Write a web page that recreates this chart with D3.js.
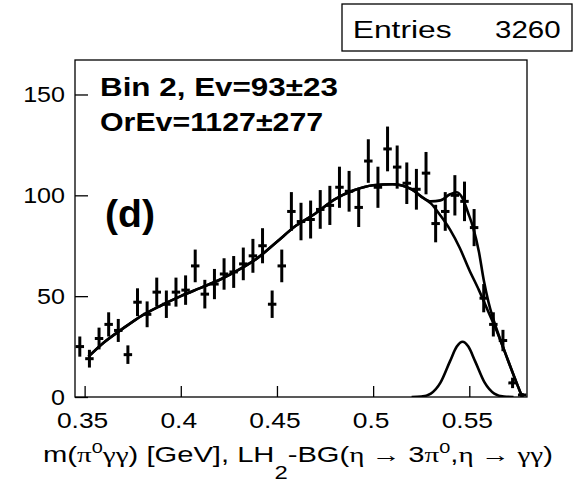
<!DOCTYPE html>
<html>
<head>
<meta charset="utf-8">
<script src="https://cdn.jsdelivr.net/npm/d3@7"></script>
<style>
  body { margin: 0; background: #fff; }
  svg { display: block; }
</style>
</head>
<body>
<svg id="chart" width="575" height="482"></svg>
<script>
// Histogram bins (GeV) — 5 MeV wide
const binCenters = [
  0.3475,0.3525,0.3575,0.3625,0.3675,0.3725,0.3775,0.3825,0.3875,0.3925,
  0.3975,0.4025,0.4075,0.4125,0.4175,0.4225,0.4275,0.4325,0.4375,0.4425,
  0.4475,0.4525,0.4575,0.4625,0.4675,0.4725,0.4775,0.4825,0.4875,0.4925,
  0.4975,0.5025,0.5075,0.5125,0.5175,0.5225,0.5275,0.5325,0.5375,0.5425,
  0.5475,0.5525,0.5575,0.5625,0.5675,0.5725,0.5775
];
const binHalfWidth = 0.0022;
const counts = [
  25,19,29,36,33,21,47,41,52,46,
  52,53,65,51,56,61,62,66,70,75,
  46,65,92,87,88,93,95,104,102,94,
  117,104,123,114,106,103,111,86,92,100,
  97,84,49,36,28,7,1
];
const errors = [
  5,4.4,5.4,6,5.7,4.6,6.9,6.4,7.2,6.8,
  7.2,7.3,8.1,7.1,7.5,7.8,7.9,8.1,8.4,8.7,
  6.8,8.1,9.6,9.3,9.4,9.6,9.7,10.2,10.1,9.7,
  10.8,10.2,11.1,10.7,10.3,10.1,10.5,9.3,9.6,10,
  9.8,9.2,7,6,5.3,2.6,1
];

// Background fit curve
const bgX = [0.352,0.36,0.37,0.38,0.39,0.40,0.41,0.42,0.43,0.44,0.45,0.46,0.47,0.48,0.49,
             0.50,0.51,0.52,0.525,0.53,0.535,0.54,0.545,0.55,0.555,0.56,0.565,0.57,0.575,0.5775];
const bgY = [20,27,34,40.5,45.5,50,54,58,63,69,77,85,91,98,102.5,
             105,105.5,103,99.3,96,90,83,74,63,53,42,31,18.5,6,0];

// Signal (eta peak) curve
const sigX = [0.520,0.525,0.530,0.535,0.540,0.5435,0.5465,0.5495,0.553,0.558,0.563,0.568,0.573];
const sigY = [0,0.2,1.7,7.1,17.8,25.0,27.4,25.0,17.8,7.1,1.7,0.2,0];

// Total fit where it departs from the background
const totX = [0.52,0.525,0.53,0.535,0.54,0.5435,0.5465,0.5495,0.552,0.555,0.5575,0.56,0.565,0.57,0.575,0.5775];
const totY = [103,99.5,97,97.5,100.5,101.5,98.5,91,84,72,58,47,31.5,18.5,6,0];

// Axis ticks
const xTicks = [0.35,0.40,0.45,0.50,0.55];
const xTickLabels = ["0.35","0.4","0.45","0.5","0.55"];
const yTicks = [0,50,100,150];
const yTickLabels = ["0","50","100","150"];

const entriesLabel = "Entries";
const entriesValue = "3260";
const infoLine1 = "Bin 2, Ev=93\u00b123";
const infoLine2 = "OrEv=1127\u00b1277";
const panelTag = "(d)";

const SANS = "'Liberation Sans', Arial, Helvetica, sans-serif";
const SERIF = "'Liberation Serif', 'Times New Roman', serif";

const svg = d3.select("#chart");
const W = 575, H = 482;
const plot = { left: 75, top: 60, right: 527, bottom: 397 };

const x = d3.scaleLinear().domain([0.345, 0.58]).range([plot.left, plot.right]);
const y = d3.scaleLinear().domain([0, 167.1]).range([plot.bottom, plot.top]);

svg.append("rect").attr("width", W).attr("height", H).attr("fill", "#fff");

svg.append("defs").append("clipPath").attr("id", "plotClip")
  .append("rect")
  .attr("x", plot.left).attr("y", plot.top)
  .attr("width", plot.right - plot.left).attr("height", plot.bottom - plot.top);

// Stretch a text horizontally so it spans [x0, x1]
function fitText(sel, x0, x1, baseline) {
  sel.attr("x", 0).attr("y", 0).attr("text-anchor", "start");
  const w = sel.node().getBBox().width;
  const sx = (x1 - x0) / w;
  sel.attr("transform", `translate(${x0},${baseline}) scale(${sx},1)`);
}

// Axes
const xAxis = svg.append("g")
  .attr("transform", `translate(0,${plot.bottom})`)
  .call(d3.axisBottom(x).tickValues(xTicks)
        .tickFormat((d, i) => xTickLabels[i])
        .tickSizeInner(-11).tickSizeOuter(0).tickPadding(15));
const yAxis = svg.append("g")
  .attr("transform", `translate(${plot.left},0)`)
  .call(d3.axisLeft(y).tickValues(yTicks)
        .tickFormat((d, i) => yTickLabels[i])
        .tickSizeInner(-13).tickSizeOuter(0).tickPadding(10));

[xAxis, yAxis].forEach(g => {
  g.select(".domain").remove();
  g.selectAll(".tick line").attr("stroke", "#000").attr("stroke-width", 1.3);
  g.selectAll(".tick text")
    .attr("fill", "#000")
    .style("font-family", SANS)
    .style("font-size", "22px");
});
xAxis.selectAll(".tick text").attr("transform", "translate(-2.5,0) scale(1.2,1)");
yAxis.selectAll(".tick text").each(function () {
  const t = d3.select(this);
  const ax = +t.attr("x");
  t.attr("transform", `translate(${ax},0) scale(1.14,1) translate(${-ax},0)`);
});

// Frame
svg.append("rect")
  .attr("x", plot.left).attr("y", plot.top)
  .attr("width", plot.right - plot.left).attr("height", plot.bottom - plot.top)
  .attr("fill", "none").attr("stroke", "#000").attr("stroke-width", 1.3);

const g = svg.append("g").attr("clip-path", "url(#plotClip)");

// Data points with error bars
const pts = binCenters.map((c, i) => ({ c, v: counts[i], e: errors[i] }));
g.selectAll("line.ebar").data(pts).join("line").attr("class", "ebar")
  .attr("x1", d => x(d.c)).attr("x2", d => x(d.c))
  .attr("y1", d => y(d.v - d.e)).attr("y2", d => y(d.v + d.e))
  .attr("stroke", "#000").attr("stroke-width", 3);
g.selectAll("line.hbar").data(pts).join("line").attr("class", "hbar")
  .attr("x1", d => x(d.c - binHalfWidth)).attr("x2", d => x(d.c + binHalfWidth))
  .attr("y1", d => y(d.v)).attr("y2", d => y(d.v))
  .attr("stroke", "#000").attr("stroke-width", 3);

// Fit curves
const line = d3.line().x(d => x(d[0])).y(d => y(d[1])).curve(d3.curveMonotoneX);
const bgPts = bgX.map((v, i) => [v, bgY[i]]);
const sigPts = sigX.map((v, i) => [v, sigY[i]]);
const totPts = bgPts.filter(d => d[0] < totX[0]).concat(totX.map((v, i) => [v, totY[i]]));

[bgPts, totPts, sigPts].forEach(p => {
  g.append("path").attr("d", line(p))
    .attr("fill", "none").attr("stroke", "#000")
    .attr("stroke-width", 2.6).attr("stroke-linejoin", "round");
});

// Statistics box
svg.append("rect")
  .attr("x", 342).attr("y", 4).attr("width", 230).attr("height", 47)
  .attr("fill", "#fff").attr("stroke", "#000").attr("stroke-width", 1.3);
fitText(svg.append("text").text(entriesLabel)
  .style("font-family", SANS).style("font-size", "23px"), 352.7, 451.7, 37.5);
fitText(svg.append("text").text(entriesValue)
  .style("font-family", SANS).style("font-size", "23px"), 495, 560.7, 37.5);

// Panel annotations
fitText(svg.append("text").text(infoLine1)
  .style("font-family", SANS).style("font-size", "25px").style("font-weight", "bold"), 100, 338, 95.5);
fitText(svg.append("text").text(infoLine2)
  .style("font-family", SANS).style("font-size", "25px").style("font-weight", "bold"), 100, 323.3, 130.5);
fitText(svg.append("text").text(panelTag)
  .style("font-family", SANS).style("font-size", "38px").style("font-weight", "bold"), 105, 155, 227);

// X-axis title with Greek symbols, super- and subscripts
const title = svg.append("text").style("font-family", SANS).style("font-size", "22px").attr("fill", "#000");
const parts = [
  { t: "m(", f: SANS },
  { t: "\u03c0", f: SERIF },
  { t: "0", f: SANS, size: 15, dy: -9 },
  { t: "\u03b3\u03b3", f: SERIF, dy: 9 },
  { t: ") [GeV], LH", f: SANS },
  { t: "2", f: SANS, size: 18, dy: 18 },
  { t: "-BG(", f: SANS, dy: -18 },
  { t: "\u03b7 \u2192 ", f: SERIF },
  { t: "3", f: SANS },
  { t: "\u03c0", f: SERIF },
  { t: "0", f: SANS, size: 15, dy: -9 },
  { t: ",", f: SANS, dy: 9 },
  { t: "\u03b7 \u2192 \u03b3\u03b3", f: SERIF },
  { t: ")", f: SANS }
];
parts.forEach(p => {
  const ts = title.append("tspan").text(p.t).style("font-family", p.f);
  if (p.size) ts.style("font-size", p.size + "px");
  if (p.dy) ts.attr("dy", p.dy);
});
fitText(title, 43, 553, 461.5);
</script>
</body>
</html>
